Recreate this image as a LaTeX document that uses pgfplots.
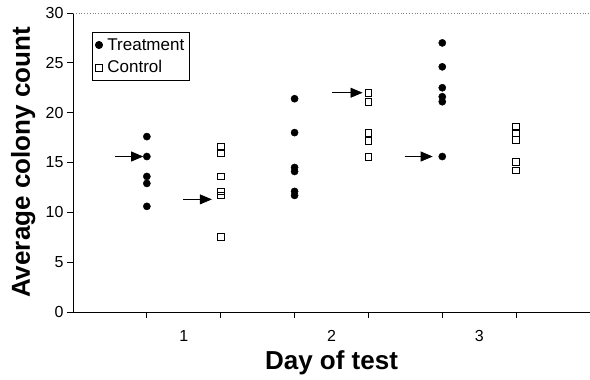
\documentclass[border=0pt]{standalone}
\usepackage{pgfplots}
\pgfplotsset{compat=1.18}
\usepackage{fontspec}
\setmainfont{Liberation Sans}
\usetikzlibrary{arrows.meta}
\begin{document}
\begin{tikzpicture}
\path[use as bounding box] (-73pt,-68pt) rectangle (517pt,312pt);
\begin{axis}[
  scale only axis, width=517pt, height=299pt,
  xmin=0, xmax=7, ymin=0, ymax=30,
  axis x line*=bottom, axis y line*=left,
  axis line style={line width=0.8pt, -},
  ytick={0,5,...,30},
  xtick={1,2,3,4,5,6}, xticklabels={},
  extra x ticks={1.5,3.5,5.5}, extra x tick labels={1,2,3},
  extra x tick style={major tick length=0pt, tick label style={yshift=-15pt}},
  tick align=outside, major tick length=6pt,
  tick style={black, line width=0.8pt},
  /pgf/number format/assume math mode=true,
  tick label style={font=\fontsize{16}{19}\selectfont},
  xlabel={\textbf{Day of test}},
  ylabel={\textbf{Average colony count}},
  label style={font=\fontsize{26}{31}\selectfont},
  xlabel style={at={(axis description cs:0.5,0)}, anchor=north, yshift=-35pt},
  ylabel style={at={(axis description cs:0,0.5)}, anchor=south, yshift=34pt},
  legend style={at={(rel axis cs:0,1)}, anchor=north west, xshift=19pt, yshift=-19pt,
    draw=black, line width=0.8pt, font=\fontsize{17}{20}\selectfont,
    inner xsep=3pt, inner ysep=4pt, row sep=5pt, cells={anchor=west}},
  legend image code/.code={\draw[#1, line width=0.8pt] plot coordinates {(0.15cm,0cm)};},
  legend cell align=left,
  clip=false,
]
\addplot[only marks, mark=*, mark size=3.6pt, black] coordinates {
  (1,17.6) (1,15.6) (1,13.6) (1,12.9) (1,10.6)
  (3,21.4) (3,18.0) (3,14.5) (3,14.1) (3,12.1) (3,11.7)
  (5,27.0) (5,24.6) (5,22.5) (5,21.6) (5,21.1) (5,15.6)
};
\addlegendentry{\,Treatment}
\addplot[only marks, mark=square, mark size=3.4pt, black, mark options={line width=0.8pt}] coordinates {
  (2,16.6) (2,16.0) (2,13.6) (2,12.1) (2,11.7) (2,7.5)
  (4,22.0) (4,21.1) (4,18.0) (4,17.2) (4,15.6)
  (6,18.6) (6,18.0) (6,17.3) (6,15.1) (6,14.2)
};
\addlegendentry{\,Control}
\draw[line width=0.7pt, -{Triangle[length=12pt,width=10pt]}] (axis cs:0.57,15.6) -- (axis cs:0.95,15.6);
\draw[line width=0.7pt, -{Triangle[length=12pt,width=10pt]}] (axis cs:1.49,11.3) -- (axis cs:1.88,11.3);
\draw[line width=0.7pt, -{Triangle[length=12pt,width=10pt]}] (axis cs:3.51,22.0) -- (axis cs:3.92,22.0);
\draw[line width=0.7pt, -{Triangle[length=12pt,width=10pt]}] (axis cs:4.49,15.6) -- (axis cs:4.87,15.6);
\draw[gray, dotted, line width=0.8pt] (rel axis cs:0,1) -- (rel axis cs:1,1);
\end{axis}
\end{tikzpicture}
\end{document}
